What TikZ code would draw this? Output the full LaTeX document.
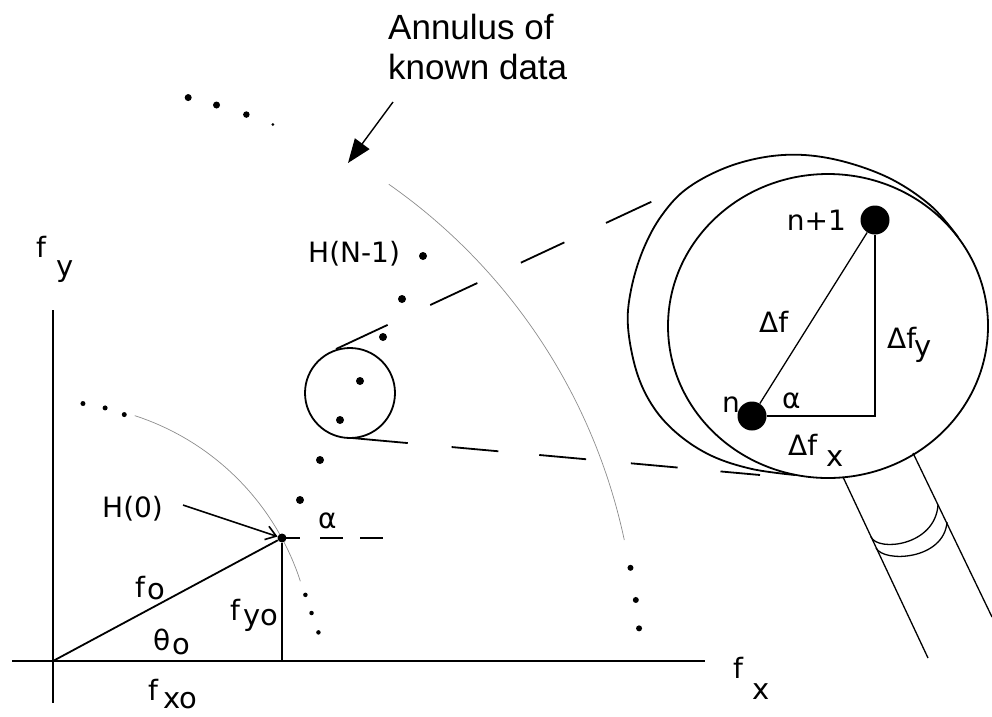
\documentclass[tikz,border=0pt]{standalone}
\usepackage{fontspec}
\setmainfont{DejaVu Sans}
\newfontfamily\annfont{Liberation Sans}
\usetikzlibrary{arrows.meta,calc}
\begin{document}
\begin{tikzpicture}[x=1pt,y=-1pt,
  ln/.style={line width=1.8pt},
  thin ln/.style={line width=1.3pt},
  axis/.style={line width=2.2pt},
  faint/.style={line width=0.7pt, black!45},
  lbl/.style={font=\fontsize{28}{28}\selectfont, inner sep=0pt, anchor=base west},
  sublbl/.style={font=\fontsize{29}{29}\selectfont, inner sep=0pt, anchor=base west},
  annlbl/.style={font=\annfont\fontsize{35}{35}\selectfont, inner sep=0pt, anchor=base west},
  dot/.style={circle, fill=black, inner sep=0pt, minimum size=8pt},
  adot/.style={circle, fill=black, inner sep=0pt, minimum size=#1},
  bigdot/.style={circle, fill=black, inner sep=0pt, minimum size=29pt},
]
\useasboundingbox (0,0) rectangle (992,716);
\coordinate (C) at (55,661);
\coordinate (O) at (53,661);

% axes
\coordinate (xl) at (12,661); \coordinate (xr) at (705,661);
\coordinate (yt) at (53,310); \coordinate (yb) at (53,703);
\draw[axis] (xl) -- (xr);
\draw[axis] (yt) -- (yb);

% annulus (outer and inner boundaries)
\draw[faint] (C) ++(-55:582) arc[start angle=-55, end angle=-12, radius=582];
\foreach \a/\s [count=\i] in {76.7/7pt,73.8/7pt,70.7/6.5pt,67.9/3pt}
  \node[adot=\s] (oa\i) at ($(C)+(-\a:579)$) {};
\foreach \a/\r [count=\i] in {9.2/583,6.0/584,3.2/585}
  \node[adot=6pt] (ob\i) at ($(C)+(-\a:\r)$) {};
\draw[faint] (C) ++(-72:258) arc[start angle=-72, end angle=-18, radius=258];
\foreach \a/\r [count=\i] in {83.8/259,78.8/258,74.3/256}
  \node[adot=5pt] (ia\i) at ($(C)+(-\a:\r)$) {};
\foreach \a/\r [count=\i] in {14.8/259,10.6/261,6.2/265}
  \node[adot=4.5pt] (ib\i) at ($(C)+(-\a:\r)$) {};

% data points
\node[adot=9pt] (H0) at (282,538) {};
\node[dot] (d1) at (300,500) {};
\node[dot] (d2) at (320,460) {};
\node[dot] (d3) at (340,420) {};
\node[dot] (d4) at (360,381) {};
\node[dot] (d5) at (383,337) {};
\node[dot] (d6) at (402,299) {};
\node[dot] (d7) at (423,256) {};

% f0 triangle
\coordinate (H0f) at (282,661);
\draw[ln] (O) -- (H0);
\draw[ln] (H0) -- (H0f);
\coordinate (ae) at (383,538);
\draw[ln, dash pattern=on 18pt off 20pt on 23pt off 17pt on 23pt] (H0.center) -- (ae);

% small circle and tangents
\node[draw, circle, ln, minimum size=90pt, inner sep=0pt] (sc) at (350,393) {};
\coordinate (t1) at (336,349); \coordinate (u1) at (653,201);
\coordinate (t2) at (352,438); \coordinate (u2) at (760,475);
\draw[ln, dash pattern=on 57pt off 47pt on 52pt off 48pt on 48pt off 46pt on 50pt] (t1) -- (u1);
\draw[ln, dash pattern=on 56pt off 44pt on 47pt off 41pt on 47pt off 45pt on 47pt off 43pt on 40pt] (t2) -- (u2);

% magnifier: lens and rim
\draw[ln] (828,326) ellipse [x radius=160, y radius=152];
\draw[ln] plot[smooth, tension=0.6] coordinates {(795,475) (752,469) (712,456) (679,435) (654,408) (637,373) (628,327) (631,290) (643,250) (662,215) (689,187) (733,165) (783,155) (833,159) (887,177) (930,205) (958,237)};
\coordinate (hl1) at (843,477); \coordinate (hl2) at (928,658);
\coordinate (hr1) at (913,453); \coordinate (hr2) at (992,617);
\draw[thin ln] (hl1) -- (hl2);
\draw[thin ln] (hr1) -- (hr2);
\coordinate (c1a) at (871,537); \coordinate (c1b) at (938,505);
\draw[thin ln] (c1a) .. controls (878,552) and (935,546) .. (c1b);
\coordinate (c2a) at (876,548); \coordinate (c2b) at (947,522);
\draw[thin ln] (c2a) .. controls (884,563) and (944,560) .. (c2b);

% magnified step
\node[bigdot] (n) at (752,416) {};
\node[bigdot] (n1) at (875,220) {};
\coordinate (cr) at (875,416);
\draw[thin ln] (n) -- (n1);
\draw[thin ln] (n) -- (cr) -- (n1);

% arrows
\coordinate (hs) at (183,505);
\draw[line width=1.6pt, -{Straight Barb[length=10pt,width=14pt]}] (hs) -- (H0);
\coordinate (aa1) at (393,102); \coordinate (aa2) at (348,163);
\draw[line width=1.4pt, -{Triangle[length=24pt,width=18pt]}] (aa1) -- (aa2);

% labels
\node[annlbl] (ann1) at (388,39) {Annulus of};
\node[annlbl] (ann2) at (388,79) {known data};
\node[lbl] (fy) at (36,257) {f}; \node[sublbl] (fys) at (56,276) {y};
\node[lbl] (fx) at (733,678) {f}; \node[sublbl] (fxs) at (752,699) {x};
\node[lbl] (fo) at (135,597) {f}; \node[sublbl] (fos) at (147,599) {o};
\node[lbl] (th) at (153,650) {θ}; \node[sublbl] (ths) at (172,654) {o};
\node[lbl] (fyo) at (230,620) {f}; \node[sublbl] (fyos) at (243,625) {yo};
\node[lbl] (fxo) at (148,700) {f}; \node[sublbl] (fxos) at (163,708) {xo};
\node[lbl] (lH0) at (102,517) {H(0)};
\node[lbl] (a1) at (318,528) {α};
\node[lbl] (hn) at (308,262) {H(N-1)};
\node[lbl, anchor=base east] (ln1) at (846,230) {n+1};
\node[lbl] (ldf) at (759,332) {Δf};
\node[lbl] (ldfy) at (887,348) {Δf}; \node[sublbl] (ldfys) at (914,356) {y};
\node[lbl] (lnn) at (722,412) {n};
\node[lbl] (la2) at (782,408) {α};
\node[lbl] (ldfx) at (788,455) {Δf}; \node[sublbl] (ldfxs) at (826,466) {x};
\end{tikzpicture}
\end{document}
